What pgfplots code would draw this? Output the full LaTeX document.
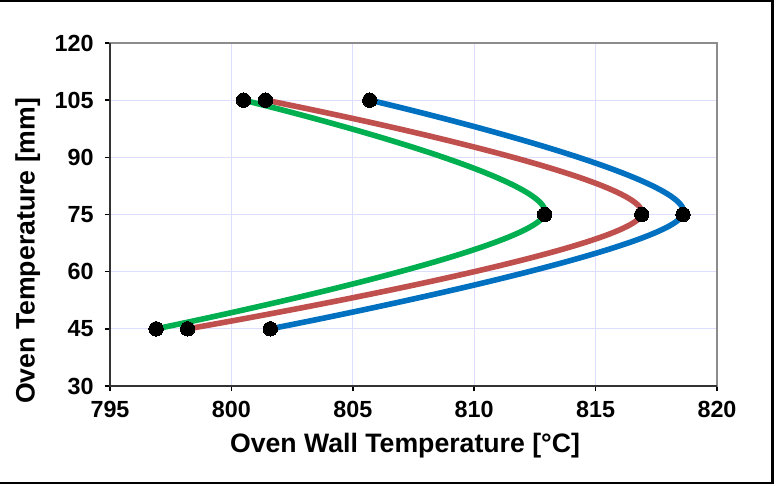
\documentclass[border=0pt]{standalone}
\usepackage{fontspec}
\setmainfont{Liberation Sans}
\usepackage{pgfplots}
\pgfplotsset{compat=1.18}

\definecolor{serblue}{RGB}{0,112,192}
\definecolor{serred}{RGB}{192,80,77}
\definecolor{sergreen}{RGB}{0,176,80}
\definecolor{gridc}{RGB}{221,221,255}
\definecolor{framegray}{RGB}{140,140,140}

\begin{document}
% 1 unit = 1 pixel of the 780x485 reference
\begin{tikzpicture}[x=0.75pt,y=0.75pt]
\useasboundingbox (0,0) rectangle (780,485);
\begin{axis}[
  at={(82.5pt,74.25pt)}, anchor=south west,
  scale only axis, width=455.25pt, height=257.25pt,
  xmin=795, xmax=820, ymin=30, ymax=120,
  xtick={795,800,805,810,815,820},
  ytick={30,45,60,75,90,105,120},
  grid=major, grid style={gridc, line width=0.75pt},
  axis line style={framegray, line width=1.5pt},
  tick align=outside, tick pos=left, major tick length=3.75pt,
  tick style={black, line width=1.2pt},
  ticklabel style={font=\fontsize{17.5}{20}\selectfont\bfseries},
  yticklabel style={xshift=-5pt},
  xticklabel style={yshift=-4pt},
  /pgf/number format/assume math mode=true,
  xlabel={Oven Wall Temperature [°C]},
  ylabel={Oven Temperature [mm]},
  label style={font=\fontsize{20}{24}\selectfont\bfseries},
  xlabel style={at={(rel axis cs:0.486,-0.1953)}, anchor=base},
  ylabel style={at={(rel axis cs:-0.124,0.394)}, anchor=base, rotate=0},
  after end axis/.code={
    \draw[black!80, line width=1.5pt] (rel axis cs:0,1) -- (rel axis cs:0,0) -- (rel axis cs:1,0);
  },
]
\addplot[serblue, line width=4.2pt, smooth, tension=0.6, mark=*, mark size=5.4pt,
  mark options={black, fill=black, solid, line width=0pt}]
  coordinates {(805.7,105) (818.6,75) (801.6,45)};
\addplot[serred, line width=4.2pt, smooth, tension=0.6, mark=*, mark size=5.4pt,
  mark options={black, fill=black, solid, line width=0pt}]
  coordinates {(801.4,105) (816.9,75) (798.2,45)};
\addplot[sergreen, line width=4.2pt, smooth, tension=0.6, mark=*, mark size=5.4pt,
  mark options={black, fill=black, solid, line width=0pt}]
  coordinates {(800.5,105) (812.9,75) (796.9,45)};
\end{axis}
% outer chart frame
\draw[black, line width=1.5pt] (0,484) -- (773,484);
\draw[black, line width=1.2pt] (0,2) -- (773,2);
\draw[black, line width=2.25pt] (772,485) -- (772,1);
\end{tikzpicture}
\end{document}
